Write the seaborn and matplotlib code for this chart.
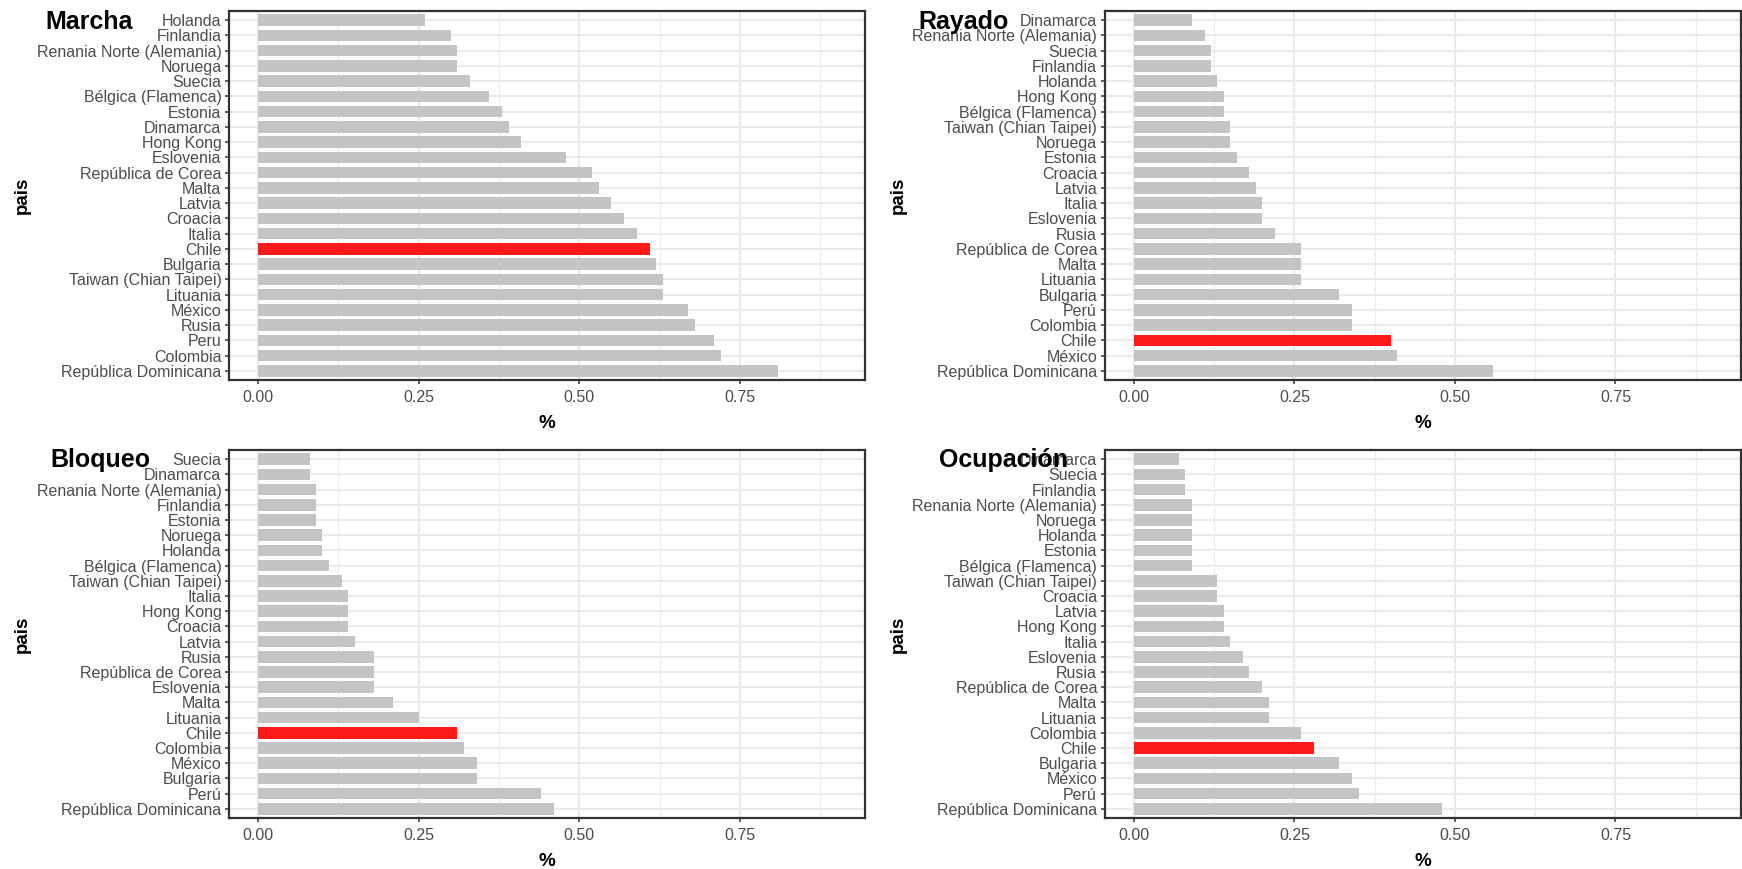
import matplotlib
matplotlib.use("Agg")
import matplotlib.pyplot as plt
import pandas as pd
import seaborn as sns
from matplotlib.ticker import FixedLocator, FormatStrFormatter

sns.set_theme(style="white")
plt.rcParams['font.family'] = ['Liberation Sans', 'DejaVu Sans']

# ---- data: share of students per country, one panel per activity ----
marcha_paises = ["Holanda", "Finlandia", "Renania Norte (Alemania)", "Noruega", "Suecia",
                 "Bélgica (Flamenca)", "Estonia", "Dinamarca", "Hong Kong", "Eslovenia",
                 "República de Corea", "Malta", "Latvia", "Croacia", "Italia", "Chile",
                 "Bulgaria", "Taiwan (Chian Taipei)", "Lituania", "México", "Rusia", "Peru",
                 "Colombia", "República Dominicana"]
marcha_valores = [0.26, 0.30, 0.31, 0.31, 0.33, 0.36, 0.38, 0.39, 0.41, 0.48, 0.52, 0.53,
                  0.55, 0.57, 0.59, 0.61, 0.62, 0.63, 0.63, 0.67, 0.68, 0.71, 0.72, 0.81]

rayado_paises = ["Dinamarca", "Renania Norte (Alemania)", "Suecia", "Finlandia", "Holanda",
                 "Hong Kong", "Bélgica (Flamenca)", "Taiwan (Chian Taipei)", "Noruega",
                 "Estonia", "Croacia", "Latvia", "Italia", "Eslovenia", "Rusia",
                 "República de Corea", "Malta", "Lituania", "Bulgaria", "Perú", "Colombia",
                 "Chile", "México", "República Dominicana"]
rayado_valores = [0.09, 0.11, 0.12, 0.12, 0.13, 0.14, 0.14, 0.15, 0.15, 0.16, 0.18, 0.19,
                  0.20, 0.20, 0.22, 0.26, 0.26, 0.26, 0.32, 0.34, 0.34, 0.40, 0.41, 0.56]

bloqueo_paises = ["Suecia", "Dinamarca", "Renania Norte (Alemania)", "Finlandia", "Estonia",
                  "Noruega", "Holanda", "Bélgica (Flamenca)", "Taiwan (Chian Taipei)", "Italia",
                  "Hong Kong", "Croacia", "Latvia", "Rusia", "República de Corea", "Eslovenia",
                  "Malta", "Lituania", "Chile", "Colombia", "México", "Bulgaria", "Perú",
                  "República Dominicana"]
bloqueo_valores = [0.08, 0.08, 0.09, 0.09, 0.09, 0.10, 0.10, 0.11, 0.13, 0.14, 0.14, 0.14,
                   0.15, 0.18, 0.18, 0.18, 0.21, 0.25, 0.31, 0.32, 0.34, 0.34, 0.44, 0.46]

ocupacion_paises = ["Dinamarca", "Suecia", "Finlandia", "Renania Norte (Alemania)", "Noruega",
                    "Holanda", "Estonia", "Bélgica (Flamenca)", "Taiwan (Chian Taipei)",
                    "Croacia", "Latvia", "Hong Kong", "Italia", "Eslovenia", "Rusia",
                    "República de Corea", "Malta", "Lituania", "Colombia", "Chile", "Bulgaria",
                    "México", "Perú", "República Dominicana"]
ocupacion_valores = [0.07, 0.08, 0.08, 0.09, 0.09, 0.09, 0.09, 0.09, 0.13, 0.13, 0.14, 0.14,
                     0.15, 0.17, 0.18, 0.20, 0.21, 0.21, 0.26, 0.28, 0.32, 0.34, 0.35, 0.48]

x_ticks = [0.0, 0.25, 0.50, 0.75]
x_minor = [0.125, 0.375, 0.625, 0.875]

# ---- styling ----
GRIS = "#C4C4C4"
ROJO = "#FF1A1A"
DESTACADO = "Chile"
GRID = "#EBEBEB"
BORDE = "#333333"

W, H = 1742, 869
fig = plt.figure(figsize=(W / 100, H / 100), dpi=100)
fig.patch.set_facecolor("white")


def axes_px(left, top, right, bottom):
    return fig.add_axes([left / W, 1 - bottom / H, (right - left) / W, (bottom - top) / H])


paneles = [
    ("Marcha", marcha_paises, marcha_valores, (229.3, 11, 865, 380), (45, 29)),
    ("Rayado", rayado_paises, rayado_valores, (1105, 11, 1740.7, 380), (918, 29)),
    ("Bloqueo", bloqueo_paises, bloqueo_valores, (229.3, 450, 865, 818), (50, 467)),
    ("Ocupación", ocupacion_paises, ocupacion_valores, (1105, 450, 1740.7, 818), (939, 467)),
]

for titulo, paises, valores, caja, pos_titulo in paneles:
    ax = axes_px(*caja)
    df = pd.DataFrame({"pais": paises, "pct": valores})
    colores = {p: (ROJO if p == DESTACADO else GRIS) for p in paises}
    sns.barplot(data=df, x="pct", y="pais", hue="pais", palette=colores,
                order=paises, hue_order=paises, orient="h", width=0.76,
                dodge=False, legend=False, saturation=1, linewidth=0,
                ax=ax, zorder=2)

    ax.set_facecolor("white")
    ax.set_xlim(-0.045, 0.945)
    ax.set_ylim(len(paises) - 1 + 0.6, -0.6)
    ax.xaxis.set_major_locator(FixedLocator(x_ticks))
    ax.xaxis.set_minor_locator(FixedLocator(x_minor))
    ax.xaxis.set_major_formatter(FormatStrFormatter("%.2f"))
    ax.set_axisbelow(True)
    ax.grid(which="major", axis="both", color=GRID, linewidth=1.6, zorder=0)
    ax.grid(which="minor", axis="x", color=GRID, linewidth=0.8, zorder=0)

    for s in ax.spines.values():
        s.set_visible(True)
        s.set_color(BORDE)
        s.set_linewidth(1.6)

    ax.tick_params(which="major", axis="both", length=3.2, width=1.1, color=BORDE,
                   labelcolor="#4D4D4D", labelsize=11.5, left=True, bottom=True)
    ax.tick_params(which="major", axis="y", pad=2.5)
    ax.tick_params(which="major", axis="x", pad=4)
    ax.tick_params(which="minor", length=0)

    ax.set_xlabel("%", fontsize=13.5, fontweight="bold", color="black", labelpad=7.5)
    ax.set_ylabel("pais", fontsize=13.5, fontweight="bold", color="black", labelpad=4)

    fig.text(pos_titulo[0] / W, 1 - pos_titulo[1] / H, titulo, fontsize=18,
             fontweight="bold", color="black", ha="left", va="baseline")

fig.savefig("out.png", dpi=100, facecolor="white")
